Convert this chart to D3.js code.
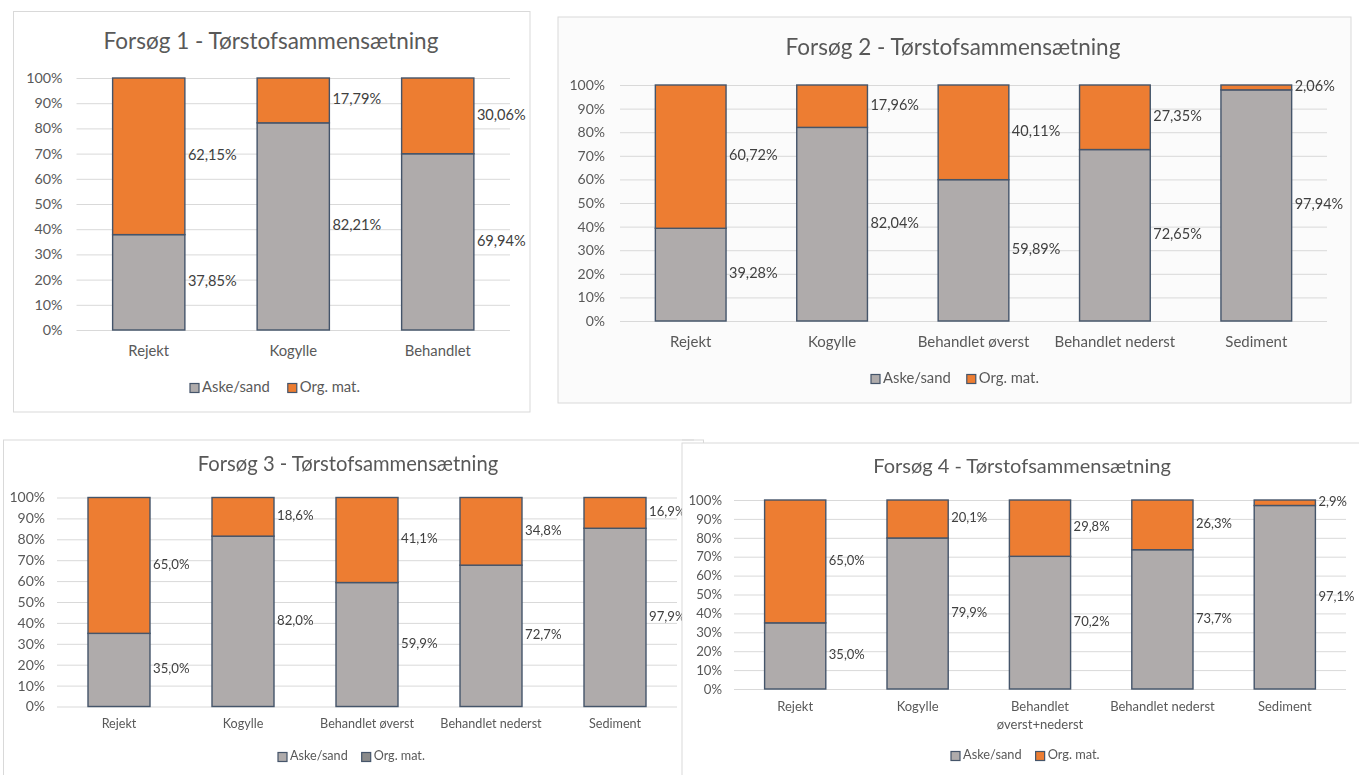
<!DOCTYPE html>
<html>
<head>
<meta charset="utf-8">
<script src="https://cdn.jsdelivr.net/npm/d3@7"></script>
<style>
  body { margin: 0; background: #fff; }
  svg { display: block; }
  text { font-family: Lato, "Noto Sans", sans-serif; }
</style>
</head>
<body>
<svg id="chart" width="1359" height="775"></svg>
<script>
// ---- Data: dry matter composition per trial (ash/sand vs organic matter, %) ----
const seriesNames = ["Aske/sand", "Org. mat."];
const yTicks = [0, 0.1, 0.2, 0.3, 0.4, 0.5, 0.6, 0.7, 0.8, 0.9, 1.0];

const titles = [
  "Forsøg 1 - Tørstofsammensætning",
  "Forsøg 2 - Tørstofsammensætning",
  "Forsøg 3 - Tørstofsammensætning",
  "Forsøg 4 - Tørstofsammensætning"
];

const categories1 = ["Rejekt", "Kogylle", "Behandlet"];
const askeSand1 = [37.85, 82.21, 69.94];
const orgMat1 = [62.15, 17.79, 30.06];

const categories2 = ["Rejekt", "Kogylle", "Behandlet øverst", "Behandlet nederst", "Sediment"];
const askeSand2 = [39.28, 82.04, 59.89, 72.65, 97.94];
const orgMat2 = [60.72, 17.96, 40.11, 27.35, 2.06];

const categories3 = ["Rejekt", "Kogylle", "Behandlet øverst", "Behandlet nederst", "Sediment"];
const askeSand3 = [35.0, 82.0, 59.9, 72.7, 97.9];
const orgMat3 = [65.0, 18.6, 41.1, 34.8, 16.9];

const categories4 = ["Rejekt", "Kogylle", "Behandlet\nøverst+nederst", "Behandlet nederst", "Sediment"];
const askeSand4 = [35.0, 79.9, 70.2, 73.7, 97.1];
const orgMat4 = [65.0, 20.1, 29.8, 26.3, 2.9];

// ---- Styling ----
const colGrey = "#afabab";
const colOrange = "#ed7d31";
const colEdge = "#44546a";
const colGrid = "#d9d9d9";
const colText = "#595959";

const svg = d3.select("#chart");

const defs = svg.append("defs");
defs.append("filter").attr("id", "soft")
  .attr("x", "-5%").attr("y", "-5%").attr("width", "110%").attr("height", "110%")
  .append("feGaussianBlur").attr("stdDeviation", 0.7);

// Layout of each chart on the page
const panels = [
  { cats: categories1, a: askeSand1, o: orgMat1, dec: 2, title: titles[0],
    box: [13.5, 11.5, 516.5, 400.5], fill: "#fff",
    plot: { x0: 76.5, x1: 510, top: 78, bottom: 330 },
    titleX: 271, titleY: 43, titleSize: 22.5, tickSize: 14.3, catSize: 14.8, valSize: 14.6, legSize: 14.8,
    tickPad: 14, catY: 352, legendY: 388, legendX: 190, legendGap: 18, soft: false,
    legendSwatch2: colOrange },
  { cats: categories2, a: askeSand2, o: orgMat2, dec: 2, title: titles[1],
    box: [558, 17, 793, 386], fill: "#fbfbfb",
    plot: { x0: 620, x1: 1327, top: 85, bottom: 321 },
    titleX: 953, titleY: 49, titleSize: 22.5, tickSize: 14, catSize: 15, valSize: 14.5, legSize: 14.8,
    tickPad: 15, catY: 343, legendY: 379, legendX: 871, legendGap: 16, soft: true,
    legendSwatch2: colOrange },
  { cats: categories3, a: askeSand3, o: orgMat3, dec: 1, title: titles[2],
    box: [3.5, 440, 700, 345], fill: "#fff",
    plot: { x0: 57, x1: 677, top: 497.5, bottom: 706.5 },
    titleX: 348, titleY: 466, titleSize: 20.2, tickSize: 14, catSize: 12.6, valSize: 13.2, legSize: 12.6,
    tickPad: 12, catY: 725, legendY: 757, legendX: 278, legendGap: 14, soft: true,
    legendSwatch2: "#8a8a8a" },
  { cats: categories4, a: askeSand4, o: orgMat4, dec: 1, title: titles[3],
    box: [682, 443, 690, 345], fill: "#fff",
    plot: { x0: 734, x1: 1346, top: 500, bottom: 689 },
    titleX: 1022, titleY: 468, titleSize: 20, tickSize: 13.2, catSize: 13, valSize: 13, legSize: 12.8,
    tickPad: 12, catY: 708, legendY: 756, legendX: 951, legendGap: 14, soft: true,
    legendSwatch2: colOrange }
];

const fmt = dec => v => v.toFixed(dec).replace(".", ",") + "%";

panels.forEach(p => {
  const g = svg.append("g");
  if (p.soft) g.attr("filter", "url(#soft)");

  // chart frame
  g.append("rect")
    .attr("x", p.box[0]).attr("y", p.box[1])
    .attr("width", p.box[2]).attr("height", p.box[3])
    .attr("fill", p.fill).attr("stroke", colGrid).attr("stroke-width", 1);

  // title
  g.append("text")
    .attr("x", p.titleX).attr("y", p.titleY)
    .attr("text-anchor", "middle").attr("dominant-baseline", "middle")
    .attr("font-size", p.titleSize).attr("fill", colText)
    .text(p.title);

  const rows = p.cats.map((c, i) => ({ cat: c, aske: p.a[i], org: p.o[i] }));
  const stack = d3.stack().keys(["aske", "org"]).offset(d3.stackOffsetExpand);
  const layers = stack(rows);

  const x = d3.scaleBand().domain(p.cats).range([p.plot.x0, p.plot.x1]).paddingInner(0.5).paddingOuter(0.25);
  const y = d3.scaleLinear().domain([0, 1]).range([p.plot.bottom, p.plot.top]);

  // y axis with gridlines
  const ya = g.append("g").attr("transform", `translate(${p.plot.x0},0)`)
    .call(d3.axisLeft(y).tickValues(yTicks).tickFormat(d3.format(".0%"))
      .tickSize(-(p.plot.x1 - p.plot.x0)).tickPadding(p.tickPad));
  ya.select(".domain").remove();
  ya.selectAll("line").attr("stroke", colGrid).attr("stroke-width", 1);
  ya.selectAll("text").attr("fill", colText).attr("font-size", p.tickSize)
    .attr("font-family", "Lato, 'Noto Sans', sans-serif");

  // x axis category labels
  const xa = g.append("g").attr("transform", `translate(0,${p.plot.bottom})`)
    .call(d3.axisBottom(x).tickSize(0));
  xa.select(".domain").remove();
  xa.selectAll("text").each(function (d) {
    const t = d3.select(this);
    const lines = d.split("\n");
    t.text(null).attr("y", p.catY - p.plot.bottom).attr("dy", null)
      .attr("fill", colText).attr("font-size", p.catSize)
      .attr("font-family", "Lato, 'Noto Sans', sans-serif")
      .attr("dominant-baseline", "middle");
    lines.forEach((ln, i) => {
      t.append("tspan").attr("x", 0).attr("dy", i === 0 ? 0 : "1.4em").text(ln);
    });
  });

  // stacked bars
  const colors = { aske: colGrey, org: colOrange };
  layers.forEach(layer => {
    g.append("g").selectAll("rect").data(layer).join("rect")
      .attr("x", d => x(d.data.cat))
      .attr("width", x.bandwidth())
      .attr("y", d => y(d[1]))
      .attr("height", d => y(d[0]) - y(d[1]))
      .attr("fill", colors[layer.key])
      .attr("stroke", colEdge).attr("stroke-width", 1.4);
  });

  // value labels beside each segment
  const f = fmt(p.dec);
  layers.forEach(layer => {
    g.append("g").selectAll("text").data(layer).join("text")
      .attr("x", d => x(d.data.cat) + x.bandwidth() + 3)
      .attr("y", d => y((d[0] + d[1]) / 2))
      .attr("dominant-baseline", "middle")
      .attr("font-size", p.valSize).attr("fill", "#404040")
      .text(d => f(d.data[layer.key]));
  });

  // legend
  const lg = g.append("g").attr("transform", `translate(${p.legendX},${p.legendY})`);
  let cx = 0;
  [colGrey, p.legendSwatch2].forEach((c, i) => {
    lg.append("rect").attr("x", cx).attr("y", -4.5).attr("width", 9).attr("height", 9)
      .attr("fill", c).attr("stroke", colEdge).attr("stroke-width", 1.2);
    const t = lg.append("text").attr("x", cx + 12).attr("y", 0)
      .attr("dominant-baseline", "middle").attr("font-size", p.legSize).attr("fill", colText)
      .text(seriesNames[i]);
    cx += 12 + t.node().getComputedTextLength() + p.legendGap;
  });
});

// thin top edge of the third frame that runs past the fourth frame's corner
svg.append("line").attr("x1", 682).attr("x2", 694).attr("y1", 440).attr("y2", 440)
  .attr("stroke", colGrid).attr("stroke-width", 1);
</script>
</body>
</html>
